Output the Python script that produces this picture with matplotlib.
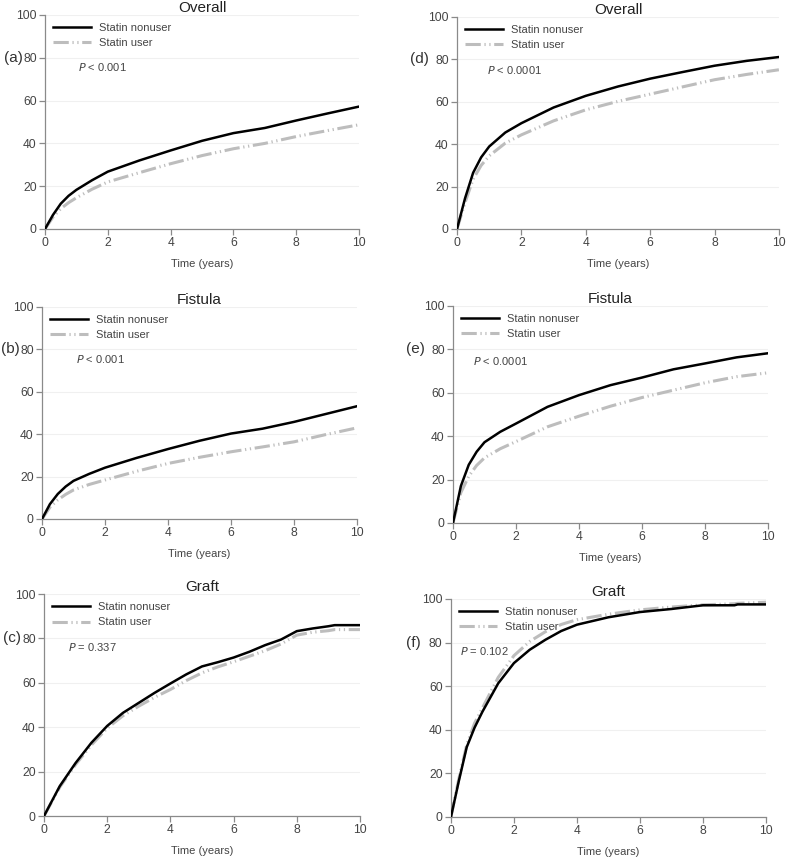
import matplotlib.pyplot as plt
import matplotlib.transforms as mtransforms

plt.rcParams['font.family'] = ['Liberation Sans', 'DejaVu Sans']

# Cumulative incidence (%), per panel
t = [0, 0.25, 0.5, 0.75, 1, 1.5, 2, 3, 4, 5, 6, 7, 8, 9, 10]

a_nonuser = [0, 6.5, 11.8, 15.5, 18.3, 22.8, 26.8, 32.0, 36.7, 41.2, 44.8, 47.2, 50.7, 54.0, 57.2]
a_user = [0, 5.5, 9.5, 12.3, 14.6, 18.6, 22.0, 26.3, 30.5, 34.3, 37.5, 40.0, 43.2, 46.0, 48.7]

b_nonuser = [0, 7.0, 11.8, 15.3, 18.0, 21.3, 24.2, 28.8, 33.0, 36.9, 40.3, 42.6, 45.8, 49.5, 53.2]
b_user = [0, 5.5, 9.0, 11.6, 13.7, 16.3, 18.4, 22.5, 26.2, 29.1, 31.7, 34.0, 36.4, 39.8, 43.0]

c_t = [0, 0.5, 1, 1.5, 2, 2.5, 3, 3.5, 4, 4.5, 5, 5.5, 6, 6.5, 7, 7.5, 8, 8.5, 9, 9.2, 10]
c_nonuser = [0, 13.5, 23.9, 33.0, 40.6, 46.5, 51.0, 55.5, 59.7, 63.8, 67.4, 69.3, 71.4, 74.0, 77.0, 79.5, 83.3, 84.5, 85.5, 86.0, 86.0]
c_user = [0, 13.0, 23.2, 32.0, 39.6, 45.2, 49.5, 53.5, 57.0, 61.0, 64.5, 67.2, 69.5, 72.0, 74.5, 77.5, 81.5, 82.8, 83.5, 84.0, 84.0]

d_nonuser = [0, 14.5, 26.5, 33.8, 38.9, 45.5, 49.9, 57.3, 62.8, 67.2, 70.9, 74.0, 77.0, 79.3, 81.1]
d_user = [0, 12.5, 23.5, 30.0, 34.5, 40.5, 44.4, 51.0, 56.2, 60.2, 63.6, 67.0, 70.4, 72.9, 75.1]

e_nonuser = [0, 17.0, 26.8, 32.8, 37.2, 42.0, 45.8, 53.5, 58.9, 63.5, 67.0, 70.8, 73.5, 76.3, 78.2]
e_user = [0, 14.0, 21.5, 26.5, 30.0, 34.2, 37.5, 44.3, 49.2, 53.8, 57.8, 61.2, 64.6, 67.4, 69.2]

f_t = [0, 0.25, 0.5, 0.75, 1, 1.5, 2, 2.5, 3, 3.5, 4, 5, 6, 7, 8, 9, 9.1, 10]
f_nonuser = [0, 16.5, 32.0, 41.0, 48.3, 61.3, 70.6, 76.7, 81.3, 85.3, 88.2, 91.6, 94.0, 95.4, 97.1, 97.1, 97.5, 97.5]
f_user = [0, 17.5, 33.0, 43.0, 50.0, 64.0, 74.0, 80.5, 85.0, 88.3, 90.5, 93.0, 95.0, 96.3, 97.3, 97.8, 98.0, 98.5]

panels = [
    # letter, title, p text, times, nonuser, user, axes rect, p-text pos, letter x
    ('(a)', 'Overall', '$P$ < 0.001', t, a_nonuser, a_user, [0.0572, 0.7328, 0.399, 0.2497], (1.05, 75.5), -0.10),
    ('(b)', 'Fistula', '$P$ < 0.001', t, b_nonuser, b_user, [0.0534, 0.3944, 0.4003, 0.2474], (1.08, 75.5), -0.10),
    ('(c)', 'Graft', '$P$ = 0.337', c_t, c_nonuser, c_user, [0.0559, 0.0478, 0.4015, 0.2590], (0.76, 76.0), -0.10),
    ('(d)', 'Overall', '$P$ < 0.0001', t, d_nonuser, d_user, [0.5807, 0.7328, 0.4090, 0.2474], (0.93, 75.0), -0.118),
    ('(e)', 'Fistula', '$P$ < 0.0001', t, e_nonuser, e_user, [0.5756, 0.3898, 0.4003, 0.2532], (0.63, 74.6), -0.118),
    ('(f)', 'Graft', '$P$ = 0.102', f_t, f_nonuser, f_user, [0.5730, 0.0467, 0.4003, 0.2544], (0.29, 76.0), -0.118),
]

fig = plt.figure(figsize=(7.87, 8.57), dpi=100)
spine_col = '#8a8a8a'
text_col = '#444444'

for letter, title, ptxt, tt, nonuser, user, rect, ppos, lx in panels:
    ax = fig.add_axes(rect)
    ax.plot(tt, nonuser, color='black', lw=1.8, label='Statin nonuser', zorder=3)
    ax.plot(tt, user, color='#bdbdbd', lw=2.2, linestyle=(0, (5, 1.2, 0.4, 1.2, 0.4, 1.2)),
            label='Statin user', zorder=2)
    ax.set_xlim(0, 10)
    ax.set_ylim(0, 100)
    ax.set_xticks([0, 2, 4, 6, 8, 10])
    ax.set_yticks([0, 20, 40, 60, 80, 100])
    ax.grid(axis='y', color='#f0f0f0', lw=0.8)
    ax.set_axisbelow(True)
    for s in ['top', 'right']:
        ax.spines[s].set_visible(False)
    for s in ['left', 'bottom']:
        ax.spines[s].set_color(spine_col)
        ax.spines[s].set_linewidth(0.9)
    ax.tick_params(colors=spine_col, labelcolor=text_col, labelsize=8.7, length=4, width=0.9, pad=2)
    ax.set_xlabel('Time (years)', fontsize=8, color=text_col, labelpad=7)
    ax.set_title(title, fontsize=11, color='#222222', pad=2)
    ax.legend(loc='upper left', frameon=False, fontsize=8, handlelength=3.4,
              borderaxespad=0.3, labelspacing=0.5, labelcolor=text_col,
              bbox_to_anchor=(0.0, 1.0))
    ax.text(ppos[0], ppos[1], ptxt, fontsize=8, color=text_col, va='center')
    trans = mtransforms.blended_transform_factory(ax.transAxes, ax.transData)
    ax.text(lx, 80, letter, transform=trans, fontsize=11, color='#333333',
            ha='center', va='center')

fig.savefig('out.png', dpi=100)
